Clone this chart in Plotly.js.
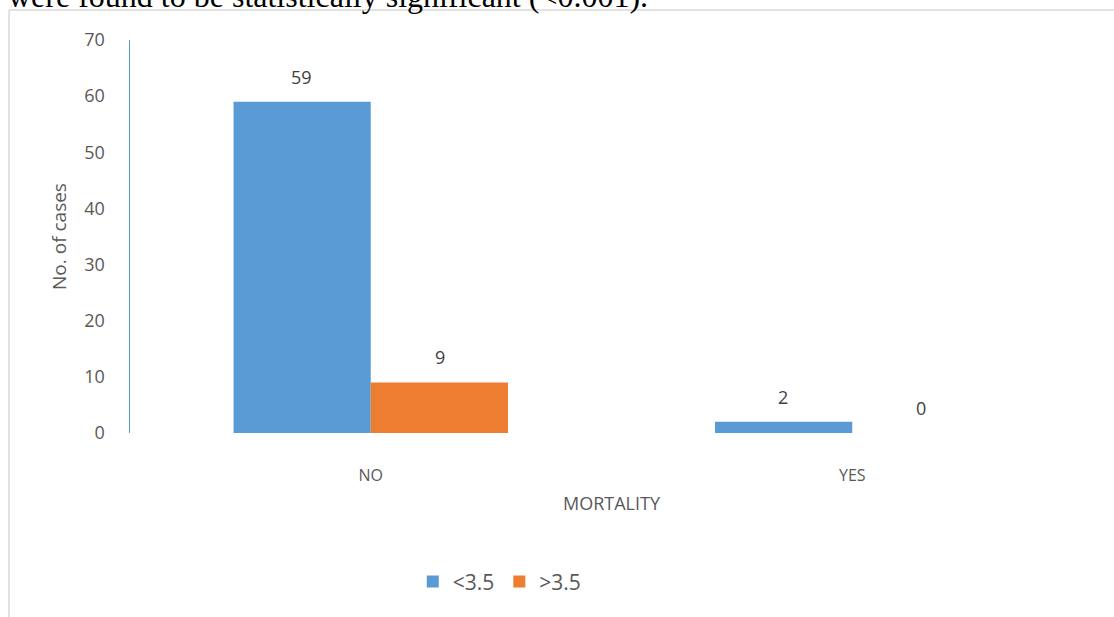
<!DOCTYPE html>
<html>
<head>
<meta charset="utf-8">
<script src="https://cdn.plot.ly/plotly-3.0.1.min.js"></script>
<style>
  html, body { margin: 0; padding: 0; background: #ffffff; }
  #chart { width: 1114px; height: 617px; }
</style>
</head>
<body>
<div id="chart"></div>
<script>
// Mortality outcome by group
const categories = ['NO', 'YES'];
const seriesNames = ['<3.5', '>3.5'];
const lowValues = [59, 2];   // <3.5
const highValues = [9, 0];   // >3.5
const yTicks = [0, 10, 20, 30, 40, 50, 60, 70];

const FONT = 'Open Sans, Lato, Liberation Sans, sans-serif';
const TEXT = '#595959';
const BLUE = '#5B9BD5';
const ORANGE = '#ED7D31';

const traces = [
  { type: 'bar', name: seriesNames[0], x: categories, y: lowValues,
    marker: { color: BLUE }, hoverinfo: 'none' },
  { type: 'bar', name: seriesNames[1], x: categories, y: highValues,
    marker: { color: ORANGE }, hoverinfo: 'none' }
];

// Value labels sit above each bar, offset half a bar to each side of the category
const barShift = 69;
const annotations = [];
[lowValues, highValues].forEach((vals, s) => {
  vals.forEach((v, i) => {
    annotations.push({
      xref: 'x', yref: 'y', x: categories[i], y: v,
      xshift: s === 0 ? -barShift : barShift, yshift: 11,
      yanchor: 'bottom', showarrow: false, text: String(v),
      font: { family: FONT, size: 18, color: '#404040' }
    });
  });
});

// Line of body text running above the chart frame
annotations.push({
  xref: 'paper', yref: 'paper', x: 0, y: 1, xanchor: 'left', yanchor: 'bottom',
  xshift: -124, yshift: 24, showarrow: false,
  text: 'were found to be statistically significant (<0.001).',
  font: { family: 'Liberation Serif, Times New Roman, serif', size: 32, color: '#000000' }
});

const layout = {
  width: 1114, height: 617,
  margin: { l: 130, r: 21, t: 40, b: 184 },
  paper_bgcolor: '#ffffff', plot_bgcolor: '#ffffff',
  barmode: 'group', bargap: 0.43, bargroupgap: 0,
  showlegend: true,
  legend: {
    orientation: 'h', x: 0.384, xanchor: 'center', y: -0.379, yanchor: 'middle',
    font: { family: FONT, size: 21, color: TEXT }, traceorder: 'normal'
  },
  xaxis: {
    type: 'category', showline: false, showgrid: false, zeroline: false, ticks: '',
    tickfont: { family: FONT, size: 16, color: TEXT }, ticklabelstandoff: 31,
    title: { text: 'MORTALITY', font: { family: FONT, size: 18, color: TEXT }, standoff: 12 }
  },
  yaxis: {
    range: [0, 70], tickvals: yTicks, showgrid: false, zeroline: false, ticks: '',
    showline: true, linecolor: BLUE, linewidth: 1.5,
    tickfont: { family: FONT, size: 18, color: TEXT }, ticklabelstandoff: 20,
    title: { text: 'No. of cases', font: { family: FONT, size: 19, color: TEXT }, standoff: 12 }
  },
  shapes: [
    { type: 'line', xref: 'paper', yref: 'paper', x0: -0.1256, x1: 1.03, y0: 1.0763, y1: 1.0763,
      line: { color: '#d9d9d9', width: 1.5 } },
    { type: 'line', xref: 'paper', yref: 'paper', x0: -0.1256, x1: -0.1256, y0: 1.0763, y1: -0.48,
      line: { color: '#d9d9d9', width: 1.5 } }
  ],
  annotations: annotations
};

Plotly.newPlot('chart', traces, layout, { displayModeBar: false, staticPlot: true });
</script>
</body>
</html>
